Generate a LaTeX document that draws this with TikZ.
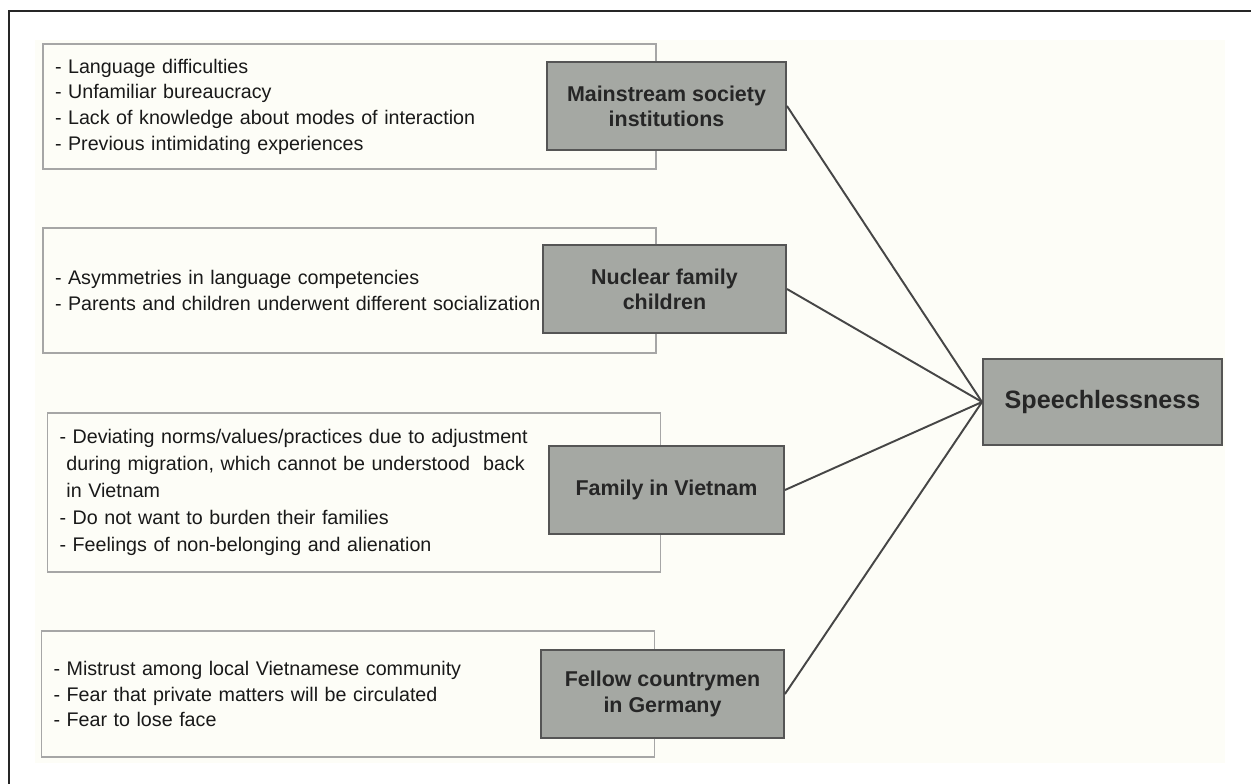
\documentclass[tikz,border=0pt]{standalone}
\usepackage{fontspec}
\setmainfont{Liberation Sans}
\usepackage{xcolor}
\usepackage{tikz}

\definecolor{bgcream}{RGB}{253,253,247}
\definecolor{boxgray}{RGB}{165,168,163}
\definecolor{edgegray}{RGB}{85,85,85}
\definecolor{linegray}{RGB}{70,70,70}

\tikzset{
  textbox/.style={draw=gray!70, line width=1pt, fill=bgcream, text width=11.78cm,
    inner xsep=0.24cm, inner ysep=0pt, align=left, text=black!90,
    font=\fontsize{11.2}{14.6}\selectfont},
  labelbox/.style={draw=edgegray, line width=1.1pt, fill=boxgray, align=center,
    inner sep=0pt, text=black!85, minimum height=1.76cm,
    font=\fontsize{12.2}{14.3}\selectfont\bfseries},
  link/.style={draw=linegray, line width=1.1pt},
}

\begin{document}
\begin{tikzpicture}
	\useasboundingbox (0,0) rectangle (25.02,-15.68);
	% Background and frame
	\fill[bgcream] (0.7,-0.8) rectangle (24.5,-15.26);
	\draw[line width=0.9pt, black!85] (25.02,-0.22) -| (0.18,-15.68);
	% Boxes with the lists
	\node[textbox, minimum height=2.5cm] (instlist) at (6.99,-2.13) {- Language difficulties\\- Unfamiliar bureaucracy\\- Lack of knowledge about modes of interaction\\- Previous intimidating experiences};
	\node[textbox, minimum height=2.5cm] (nuclearlist) at (6.99,-5.81) {- Asymmetries in language competencies\\- Parents and children underwent different socialization};
	\node[textbox, minimum height=3.18cm, font=\fontsize{11.2}{15.4}\selectfont] (famvnlist) at (7.08,-9.85) {- Deviating norms/values/practices due to adjustment\\\hspace*{0.35em}during migration, which cannot be understood~ back\\\hspace*{0.35em}in Vietnam\\- Do not want to burden their families\\- Feelings of non-belonging and alienation};
	\node[textbox, minimum height=2.52cm] (fellowlist) at (6.96,-13.88) {- Mistrust among local Vietnamese community\\- Fear that private matters will be circulated\\- Fear to lose face};
	% Grey boxes
	\node[labelbox, minimum width=4.78cm] (inst) at (13.33,-2.12) {Mainstream society\\institutions};
	\node[labelbox, minimum width=4.86cm] (nuclear) at (13.29,-5.78) {Nuclear family\\children};
	\node[labelbox, minimum width=4.70cm] (famvn) at (13.33,-9.80) {Family in Vietnam};
	\node[labelbox, minimum width=4.86cm] (fellow) at (13.25,-13.88) {Fellow countrymen\\in Germany};
	\node[labelbox, minimum width=4.78cm, minimum height=1.72cm, font=\fontsize{14.3}{16}\selectfont\bfseries] (speech) at (22.05,-8.04) {Speechlessness};
	% Lines to speechlessness
	\foreach \n in {inst,nuclear,famvn,fellow} \draw[link] (\n.east) -- (speech.west);
\end{tikzpicture}
\end{document}
